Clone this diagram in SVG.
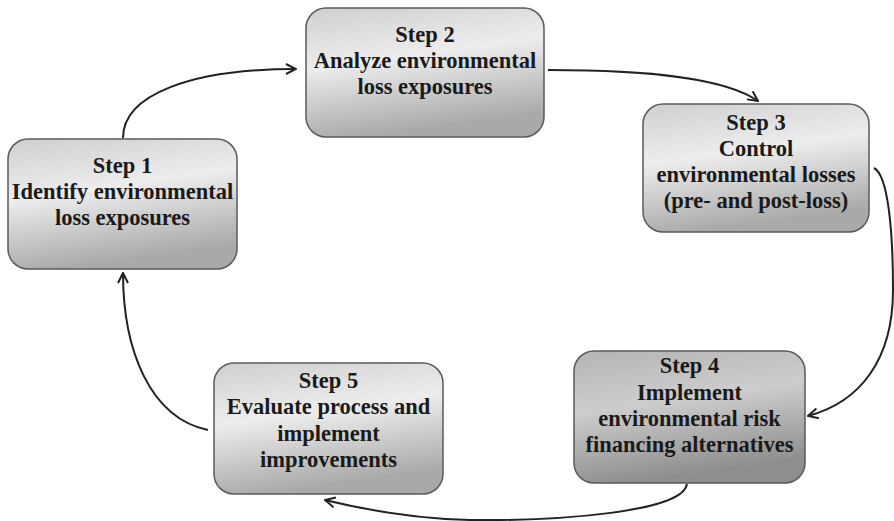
<svg xmlns="http://www.w3.org/2000/svg" width="894" height="521" viewBox="0 0 894 521">
  <style>
    .box { stroke: #5a5a5a; stroke-width: 1.5; }
    .lbl { font-family: "Liberation Serif", "Times New Roman", serif; font-weight: bold; font-size: 22.5px; fill: #1a1a1a; text-anchor: middle; }
    .conn { fill: none; stroke: #222; stroke-width: 2; marker-end: url(#arr); }
  </style>
  <defs>
    <linearGradient id="g" x1="0" y1="0" x2="0.25" y2="1">
      <stop offset="0" stop-color="#cfcfcf"/>
      <stop offset="0.45" stop-color="#ededed"/>
      <stop offset="1" stop-color="#a9a9a9"/>
    </linearGradient>
    <linearGradient id="gd" x1="0" y1="0" x2="0.25" y2="1">
      <stop offset="0" stop-color="#b4b4b4"/>
      <stop offset="0.45" stop-color="#cdcdcd"/>
      <stop offset="1" stop-color="#8e8e8e"/>
    </linearGradient>
    <marker id="arr" viewBox="0 0 12 12" refX="11" refY="6" markerWidth="12" markerHeight="12" markerUnits="userSpaceOnUse" orient="auto">
      <path d="M1,1 L11,6 L1,11" fill="none" stroke="#222" stroke-width="2"/>
    </marker>
  </defs>

  <g id="connectors">
    <path class="conn" d="M123,138 C123,95 190,69 296,69"/>
    <path class="conn" d="M548,70 C650,70 725,78 758,101"/>
    <path class="conn" d="M874,168 C888,175 893,230 893,290 C893,360 860,402 808,416"/>
    <path class="conn" d="M687,484 C683,512 560,521 470,520 C420,519 370,511 325,500"/>
    <path class="conn" d="M208,430 C150,418 123,350 123,273"/>
  </g>

  <g id="step1">
    <rect class="box" x="8" y="139" width="229" height="130" rx="20" fill="url(#g)"/>
    <text class="lbl" x="122.5" y="173">Step 1</text>
    <text class="lbl" x="122.5" y="199">Identify environmental</text>
    <text class="lbl" x="122.5" y="225">loss exposures</text>
  </g>
  <g id="step2">
    <rect class="box" x="306" y="8" width="238" height="129" rx="20" fill="url(#g)"/>
    <text class="lbl" x="425" y="42">Step 2</text>
    <text class="lbl" x="425" y="68">Analyze environmental</text>
    <text class="lbl" x="425" y="94">loss exposures</text>
  </g>
  <g id="step3">
    <rect class="box" x="643" y="104" width="226" height="128" rx="20" fill="url(#g)"/>
    <text class="lbl" x="756" y="130">Step 3</text>
    <text class="lbl" x="756" y="156">Control</text>
    <text class="lbl" x="756" y="182">environmental losses</text>
    <text class="lbl" x="756" y="208">(pre- and post-loss)</text>
  </g>
  <g id="step4">
    <rect class="box" x="574" y="351" width="231" height="132" rx="20" fill="url(#gd)"/>
    <text class="lbl" x="689.5" y="373">Step 4</text>
    <text class="lbl" x="689.5" y="400">Implement</text>
    <text class="lbl" x="689.5" y="426">environmental risk</text>
    <text class="lbl" x="689.5" y="452">financing alternatives</text>
  </g>
  <g id="step5">
    <rect class="box" x="214" y="363" width="229" height="131" rx="20" fill="url(#g)"/>
    <text class="lbl" x="328.5" y="388">Step 5</text>
    <text class="lbl" x="328.5" y="414">Evaluate process and</text>
    <text class="lbl" x="328.5" y="441">implement</text>
    <text class="lbl" x="328.5" y="467">improvements</text>
  </g>
</svg>
